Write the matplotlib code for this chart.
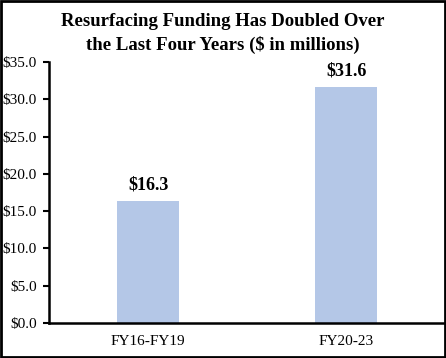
import matplotlib
matplotlib.use("Agg")
import matplotlib.pyplot as plt
from matplotlib.patches import Rectangle

categories = ["FY16-FY19", "FY20-23"]
funding = [16.3, 31.6]
yticks = [0, 5, 10, 15, 20, 25, 30, 35]

plt.rcParams['font.family'] = ['Liberation Serif', 'DejaVu Serif']

fig = plt.figure(figsize=(4.46, 3.58), dpi=100)
ax = fig.add_axes([0.110, 0.098, 0.888, 0.729])

x = list(range(len(categories)))
ax.bar(x, funding, width=0.313, color="#B4C7E7")
for xi, v in zip(x, funding):
    ax.text(xi, v + 1.1, f"${v:.1f}", ha="center", va="bottom",
            fontsize=13, fontweight="bold")

ax.set_xlim(-0.5, 1.5)
ax.set_ylim(0, 35)
ax.set_yticks(yticks)
ax.set_yticklabels([f"${t:.1f}" for t in yticks], fontsize=11)
ax.set_xticks(x)
ax.set_xticklabels(categories, fontsize=11)
ax.tick_params(axis="x", length=0, pad=9)
ax.tick_params(axis="y", length=4, width=1.5, direction="out", pad=5)
ax.spines["top"].set_visible(False)
ax.spines["right"].set_visible(False)
ax.spines["left"].set_linewidth(1.8)
ax.spines["bottom"].set_linewidth(1.8)

fig.text(0.5, 0.964, "Resurfacing Funding Has Doubled Over\nthe Last Four Years ($ in millions)",
         ha="center", va="top", fontsize=13.5, fontweight="bold", linespacing=1.45)

fig.patches.append(Rectangle((0.002, 0.003), 0.995, 0.994, transform=fig.transFigure,
                             fill=False, edgecolor="black", linewidth=2))

fig.savefig("out.png", dpi=100)
